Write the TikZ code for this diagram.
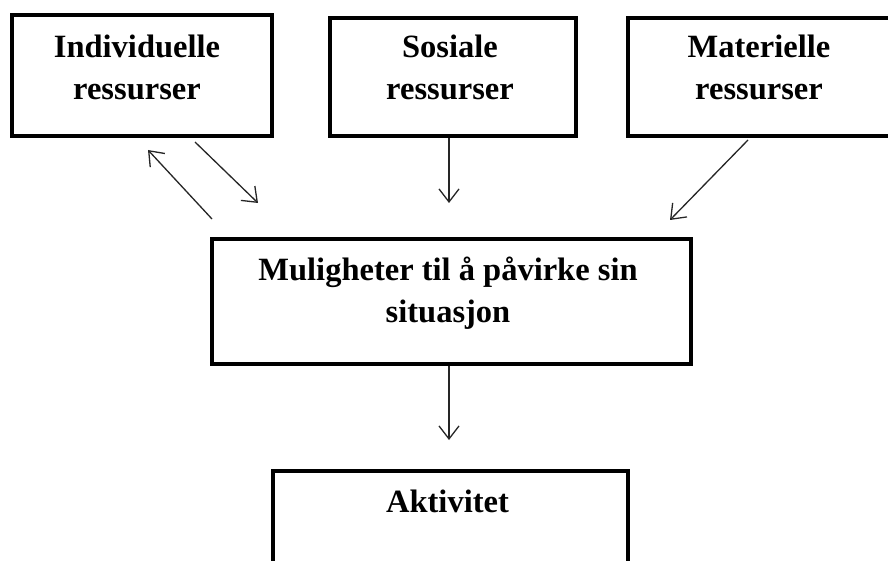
\documentclass[tikz,border=0pt]{standalone}
\usepackage{fontspec}
\setmainfont{Liberation Serif}
\usetikzlibrary{arrows.meta}
\begin{document}
\begin{tikzpicture}[x=1pt,y=-1pt,
  box/.style={draw=black,line width=4pt,rectangle,inner sep=0pt},
  lbl/.style={font=\bfseries\fontsize{32.5}{42}\selectfont,align=center,anchor=base,inner sep=0pt},
  conn/.style={line width=1.3pt,draw=black!85,-{Straight Barb[length=13pt,width=20pt,line width=1.3pt]}}]
\useasboundingbox (0,0) rectangle (888,561);
\clip (0,0) rectangle (888,561);
\fill[white] (0,0) rectangle (888,561);
% boxes
\node[box,minimum width=259.5pt,minimum height=121.5pt] (ind) at (141.75,75.75) {};
\node[box,minimum width=246pt,minimum height=118.5pt] (sos) at (452.5,77.25) {};
\node[box,minimum width=271.7pt,minimum height=118.5pt] (mat) at (764.15,77.25) {};
\node[box,minimum width=479pt,minimum height=125pt] (mul) at (451.2,301.5) {};
\node[box,minimum width=355.5pt,minimum height=129pt] (akt) at (450.25,535.5) {};
% labels (base anchor = baseline of the last line)
\node[lbl] (indt) at (137,100) {Individuelle\\ressurser};
\node[lbl] (sost) at (450,100) {Sosiale\\ressurser};
\node[lbl] (matt) at (759,100) {Materielle\\ressurser};
\node[lbl] (mult) at (448,322) {Muligheter til å påvirke sin\\situasjon};
\node[lbl] (aktt) at (447.5,512) {Aktivitet};
% connector end points
\coordinate (a1s) at (212,219);
\coordinate (a1e) at (148,150);
\coordinate (a2s) at (195,142);
\coordinate (a2e) at (258,203);
\coordinate (a3e) at (449,203);
\coordinate (a4s) at (748,140);
\coordinate (a4e) at (670,220);
\coordinate (a5e) at (449,440);
% connectors
\draw[conn] (a1s) -- (a1e);
\draw[conn] (a2s) -- (a2e);
\draw[conn] (sos.south -| a3e) -- (a3e);
\draw[conn] (a4s) -- (a4e);
\draw[conn] (mul.south -| a5e) -- (a5e);
\end{tikzpicture}
\end{document}
